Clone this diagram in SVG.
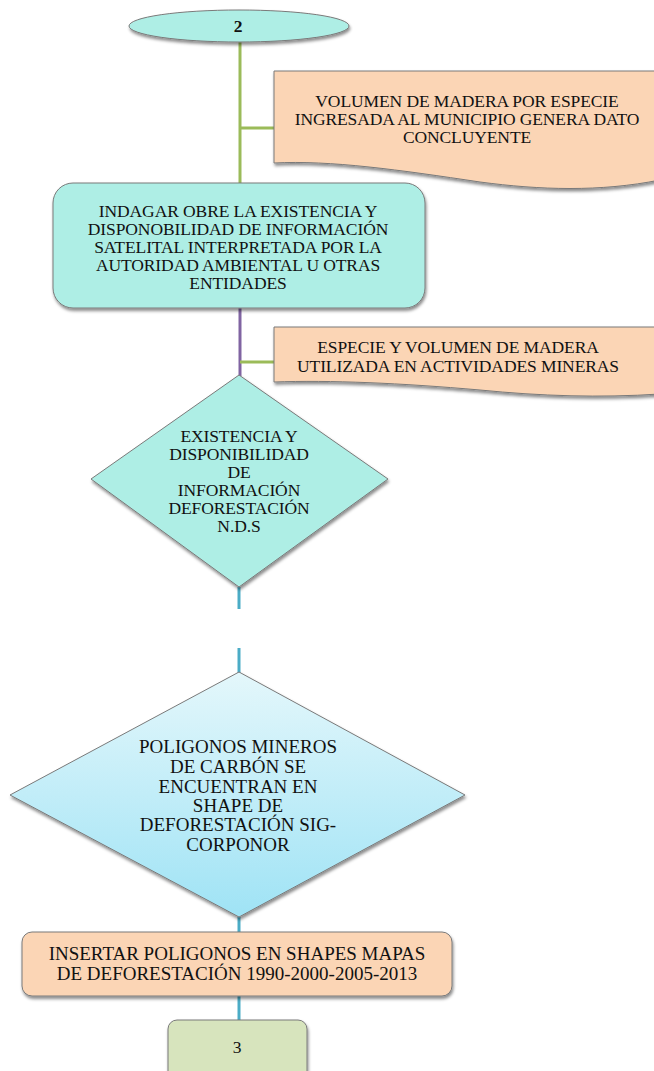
<svg xmlns="http://www.w3.org/2000/svg" width="654" height="1071" viewBox="0 0 654 1071">
<style>
.t{font-family:"Liberation Serif","Times New Roman",serif;fill:#111;text-anchor:middle;}
.s17{font-size:17.5px;letter-spacing:-0.1px;}
.s19{font-size:19px;}
.num{font-size:17.5px;}
.shape{stroke:#7a7a7a;stroke-width:1;}
.aqua{fill:#aeeee5;}
.peach{fill:#fbd5b5;}
</style>
<defs>
<filter id="sh" x="-10%" y="-10%" width="130%" height="130%">
<feDropShadow dx="1" dy="2.5" stdDeviation="1.5" flood-color="#000" flood-opacity="0.45"/>
</filter>
<linearGradient id="blueg" x1="0" y1="0" x2="0" y2="1">
<stop offset="0" stop-color="#e4f7fb"/>
<stop offset="1" stop-color="#9fe3f5"/>
</linearGradient>
</defs>
<g id="connectors" fill="none" stroke-width="3">
<line x1="240" y1="42" x2="240" y2="184" stroke="#9bbb59"/>
<line x1="240" y1="128" x2="275" y2="128" stroke="#9bbb59"/>
<line x1="240" y1="308" x2="240" y2="376" stroke="#8064a2"/>
<line x1="240" y1="362" x2="275" y2="362" stroke="#9bbb59"/>
<line x1="239" y1="587" x2="239" y2="609" stroke="#4bacc6"/>
<line x1="239" y1="648" x2="239" y2="673" stroke="#4bacc6"/>
<line x1="239" y1="917" x2="239" y2="933" stroke="#4bacc6"/>
<line x1="239" y1="996" x2="239" y2="1021" stroke="#4bacc6"/>
</g>
<g id="n-start">
<ellipse cx="239" cy="26" rx="110" ry="16" class="aqua shape" filter="url(#sh)"/>
<text x="238" y="32" class="t num" font-weight="bold">2</text>
</g>
<g id="n-doc1">
<path d="M274,71 H660 V180 C600,192 540,190 480,182 C400,170 330,160 274,163 Z" class="peach shape" filter="url(#sh)"/>
<text class="t s17"><tspan x="467" y="107">VOLUMEN DE MADERA POR ESPECIE</tspan><tspan x="467" y="125">INGRESADA AL MUNICIPIO GENERA DATO</tspan><tspan x="467" y="143">CONCLUYENTE</tspan></text>
</g>
<g id="n-indagar">
<rect x="53" y="183" width="372" height="125" rx="20" class="aqua shape" filter="url(#sh)"/>
<text class="t s17"><tspan x="238" y="217">INDAGAR OBRE LA EXISTENCIA Y</tspan><tspan x="238" y="235">DISPONOBILIDAD DE INFORMACIÓN</tspan><tspan x="238" y="253">SATELITAL INTERPRETADA POR LA</tspan><tspan x="238" y="271">AUTORIDAD AMBIENTAL U OTRAS</tspan><tspan x="238" y="289">ENTIDADES</tspan></text>
</g>
<g id="n-doc2">
<path d="M274,327 H660 V394 C600,398 540,396 480,390 C400,383 330,380 274,382 Z" class="peach shape" filter="url(#sh)"/>
<text class="t s17"><tspan x="458" y="353">ESPECIE Y VOLUMEN DE MADERA</tspan><tspan x="458" y="372">UTILIZADA EN ACTIVIDADES MINERAS</tspan></text>
</g>
<g id="n-dec1">
<polygon points="239,375 388,479 239,587 91,479" class="aqua shape" filter="url(#sh)"/>
<text class="t s17"><tspan x="239" y="442">EXISTENCIA Y</tspan><tspan x="239" y="460">DISPONIBILIDAD</tspan><tspan x="239" y="478">DE</tspan><tspan x="239" y="496">INFORMACIÓN</tspan><tspan x="239" y="514">DEFORESTACIÓN</tspan><tspan x="239" y="532">N.D.S</tspan></text>
</g>
<g id="n-dec2">
<polygon points="239,672 465,795 239,917 10,795" fill="url(#blueg)" class="shape" filter="url(#sh)"/>
<text class="t s19"><tspan x="238" y="753">POLIGONOS MINEROS</tspan><tspan x="238" y="773">DE CARBÓN SE</tspan><tspan x="238" y="793">ENCUENTRAN EN</tspan><tspan x="238" y="812">SHAPE DE</tspan><tspan x="238" y="831">DEFORESTACIÓN SIG-</tspan><tspan x="238" y="851">CORPONOR</tspan></text>
</g>
<g id="n-insertar">
<rect x="22" y="932" width="430" height="64" rx="10" class="peach shape" filter="url(#sh)"/>
<text class="t s19"><tspan x="237" y="960">INSERTAR POLIGONOS EN SHAPES MAPAS</tspan><tspan x="237" y="980">DE DEFORESTACIÓN 1990-2000-2005-2013</tspan></text>
</g>
<g id="n-end">
<rect x="168" y="1020" width="139" height="60" rx="9" fill="#d7e4bd" class="shape" filter="url(#sh)"/>
<text x="237" y="1053" class="t num">3</text>
</g>
</svg>
